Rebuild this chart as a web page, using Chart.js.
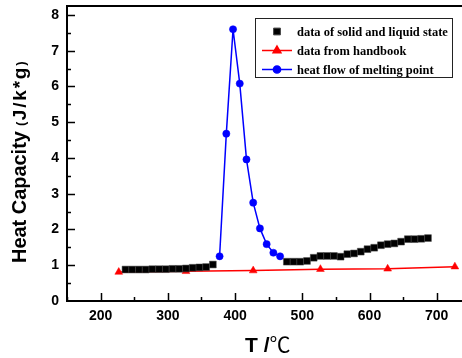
<!DOCTYPE html>
<html><head><meta charset="utf-8">
<script src="https://cdn.jsdelivr.net/npm/chart.js@4.4.1/dist/chart.umd.min.js"></script>
<style>html,body{margin:0;padding:0;background:#fff}canvas{display:block}</style>
</head><body>
<canvas id="c" width="462" height="358"></canvas>
<script>
// ---- data ----
const seriesNames = ['data of solid and liquid state', 'data from handbook', 'heat flow of melting point'];
const solidT = [237,247,257,267,277,287,297,307,317,327,337,347,357,367,
                477,487,497,507,517,527,537,547,557,567,577,587,597,607,617,627,637,647,657,667,677,687];
const solidCp = [0.88,0.88,0.88,0.88,0.89,0.89,0.89,0.90,0.90,0.91,0.93,0.94,0.95,1.02,
                 1.10,1.10,1.10,1.12,1.21,1.26,1.26,1.26,1.24,1.31,1.33,1.38,1.45,1.49,1.56,1.59,1.61,1.66,1.73,1.73,1.74,1.76];
const handbookT = [227,327,427,527,627,727];
const handbookCp = [0.81,0.83,0.85,0.89,0.90,0.96];
const meltT = [377,387,397,407,417,427,437,447,457,467];
const meltCp = [1.25,4.68,7.60,6.08,3.96,2.75,2.03,1.59,1.35,1.25];
const xTicks = [200,300,400,500,600,700];
const yTicks = [0,1,2,3,4,5,6,7,8];

const pts = (xs, ys) => xs.map((x, i) => ({x: x, y: ys[i]}));

// font size so that the text's advance equals a target width
function fitText(ctx, text, weight, family, target) {
  ctx.font = weight + ' 20px ' + family;
  const w = ctx.measureText(text).width;
  return 20 * target / w;
}

const SANS = '"Liberation Sans", Arial, sans-serif';

const frame = {
  id: 'frame',
  afterDraw(chart) {
    const ctx = chart.ctx, a = chart.chartArea, xs = chart.scales.x, ys = chart.scales.y;
    ctx.save();
    ctx.strokeStyle = '#000';
    // top border
    ctx.lineWidth = 2;
    ctx.beginPath(); ctx.moveTo(a.left - 1, a.top); ctx.lineTo(a.right, a.top); ctx.stroke();
    // inward ticks
    ctx.lineWidth = 1.5;
    ctx.beginPath();
    for (let v = 150; v <= xs.max; v += 50) {
      const px = Math.round(xs.getPixelForValue(v)) + 0.5;
      const len = (v % 100 === 0) ? 8 : 4;
      ctx.moveTo(px, a.bottom); ctx.lineTo(px, a.bottom - len);
    }
    for (let v = 0.5; v <= ys.max; v += 0.5) {
      const py = Math.round(ys.getPixelForValue(v)) + 0.5;
      const len = Number.isInteger(v) ? 8 : 4;
      ctx.moveTo(a.left, py); ctx.lineTo(a.left + len, py);
    }
    ctx.stroke();

    // axis titles
    ctx.fillStyle = '#000';
    ctx.textBaseline = 'alphabetic';
    ctx.textAlign = 'left';
    ctx.save();
    ctx.translate(26, 263);
    ctx.rotate(-Math.PI / 2);
    const s1 = fitText(ctx, 'Heat Capacity', 'bold', SANS, 132);
    ctx.font = 'bold ' + s1 + 'px ' + SANS;
    ctx.fillText('Heat Capacity', 0, 0);
    let x = 137;
    ctx.font = 'bold 13px ' + SANS;
    ctx.fillText('(', x, -1); x += ctx.measureText('(').width + 1.5;
    ctx.font = 'bold 19px ' + SANS;
    for (const ch of 'J/k*g') { ctx.fillText(ch, x, 0); x += ctx.measureText(ch).width + 1.8; }
    ctx.font = 'bold 13px ' + SANS;
    ctx.fillText(')', x, -1);
    ctx.restore();
    ctx.font = 'bold 21px ' + SANS;
    ctx.fillText('T /', 245, 352);
    const tw = ctx.measureText('T /').width;
    ctx.font = '21px "Noto Sans CJK SC", "DejaVu Sans", sans-serif';
    ctx.fillText('\u2103', 245 + tw, 352);

    // legend
    const bx = 255.5, by = 18.5, bw = 197, bh = 59;
    ctx.fillStyle = '#fff';
    ctx.fillRect(bx, by, bw, bh);
    ctx.lineWidth = 1;
    ctx.strokeStyle = '#222';
    ctx.strokeRect(bx, by, bw, bh);
    const rows = [31.5, 50.5, 69.5];
    const SERIF = '"Liberation Serif", "Times New Roman", serif';
    const ls = fitText(ctx, seriesNames[0], 'bold', SERIF, 151);
    chart.data.datasets.forEach((ds, i) => {
      const y = rows[i];
      if (ds.showLine !== false) {
        ctx.strokeStyle = ds.borderColor; ctx.lineWidth = ds.borderWidth;
        ctx.beginPath(); ctx.moveTo(262, y); ctx.lineTo(292, y); ctx.stroke();
      }
      ctx.fillStyle = ds.pointBackgroundColor;
      ctx.strokeStyle = ds.pointBorderColor;
      Chart.helpers.drawPoint(ctx, {pointStyle: ds.pointStyle, radius: ds.pointRadius, rotation: 0, borderWidth: ds.pointBorderWidth}, 277, y);
      ctx.fillStyle = '#000';
      ctx.font = 'bold ' + ls + 'px ' + SERIF;
      ctx.textAlign = 'left';
      ctx.textBaseline = 'middle';
      ctx.fillText(ds.label, 297, y + 1);
    });
    ctx.restore();
  }
};

new Chart(document.getElementById('c'), {
  type: 'line',
  data: {
    datasets: [
      {label: seriesNames[0], data: pts(solidT, solidCp), showLine: false,
       pointStyle: 'rect', pointRadius: 4.8, pointBackgroundColor: '#000', pointBorderColor: '#444', pointBorderWidth: 0.5,
       borderColor: '#000', borderWidth: 0},
      {label: seriesNames[1], data: pts(handbookT, handbookCp), showLine: true,
       borderColor: '#ff0000', borderWidth: 1.5,
       pointStyle: 'triangle', pointRadius: 4.5, pointBackgroundColor: '#ff0000', pointBorderColor: '#ff0000', pointBorderWidth: 0.5},
      {label: seriesNames[2], data: pts(meltT, meltCp), showLine: true,
       borderColor: '#0000ff', borderWidth: 1.5,
       pointStyle: 'circle', pointRadius: 3.6, pointBackgroundColor: '#0000ff', pointBorderColor: '#0000ff', pointBorderWidth: 0.5}
    ]
  },
  options: {
    responsive: false,
    animation: false,
    devicePixelRatio: 1,
    layout: {autoPadding: false, padding: {top: 6, right: 0, left: 0, bottom: 0}},
    elements: {line: {tension: 0}},
    plugins: {legend: {display: false}, tooltip: {enabled: false}},
    scales: {
      x: {
        type: 'linear', min: 150, max: 737.6,
        afterBuildTicks: s => { s.ticks = xTicks.map(v => ({value: v})); },
        afterFit: s => { s.height = 57; s.paddingLeft = 0; s.paddingRight = 0; },
        grid: {display: false, drawTicks: false},
        border: {display: true, color: '#000', width: 2},
        ticks: {padding: 7, color: '#000', font: {family: SANS, size: 14, weight: 'bold'}, maxRotation: 0}
      },
      y: {
        type: 'linear', min: 0, max: 8.25,
        afterBuildTicks: s => { s.ticks = yTicks.map(v => ({value: v})); },
        afterFit: s => { s.width = 67; s.paddingTop = 0; s.paddingBottom = 0; },
        grid: {display: false, drawTicks: false},
        border: {display: true, color: '#000', width: 2},
        ticks: {padding: 8, color: '#000', font: {family: SANS, size: 14, weight: 'bold'}}
      }
    }
  },
  plugins: [frame]
});
</script>
</body></html>
